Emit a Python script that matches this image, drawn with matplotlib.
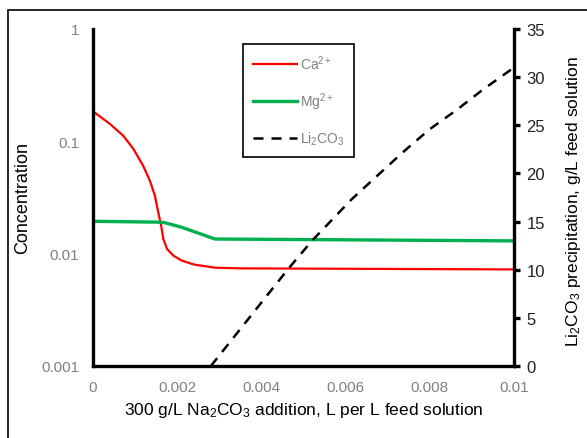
import matplotlib
matplotlib.use("Agg")
import matplotlib.pyplot as plt
from matplotlib.patches import Rectangle
from matplotlib.lines import Line2D

plt.rcParams['font.family'] = ['Liberation Sans', 'DejaVu Sans']
plt.rcParams['mathtext.fontset'] = 'custom'
plt.rcParams['mathtext.rm'] = 'Liberation Sans'
plt.rcParams['mathtext.it'] = 'Liberation Sans:italic'

# Ca2+ concentration vs Na2CO3 addition
ca_x = [0.0, 0.0004, 0.00072, 0.00096, 0.00119, 0.00135, 0.00147, 0.00155, 0.00162,
        0.00167, 0.00176, 0.00191, 0.0021, 0.0024, 0.0029, 0.0035, 0.01]
ca_y = [0.185, 0.143, 0.112, 0.0855, 0.0607, 0.0447, 0.0328, 0.0233, 0.0177,
        0.0135, 0.0110, 0.0096, 0.0087, 0.0080, 0.0075, 0.0074, 0.00724]

# Mg2+ concentration
mg_x = [0.0, 0.0015, 0.0017, 0.0021, 0.0029, 0.01]
mg_y = [0.0194, 0.0191, 0.0189, 0.0172, 0.0135, 0.0130]

# Li2CO3 precipitation, g/L feed
li_x = [0.0028, 0.00464, 0.0052, 0.00614, 0.00736, 0.008, 0.00864, 0.00926, 0.01]
li_y = [0.0, 10.1, 13.0, 17.3, 22.2, 24.6, 26.6, 28.7, 31.0]

grey = '#808080'

fig = plt.figure(figsize=(5.87, 4.39), dpi=100)
fig.patches.append(Rectangle((8 / 587, -0.5), 2, 0.5 + 1 - 10.5 / 439,
                             transform=fig.transFigure, fill=False,
                             edgecolor='black', linewidth=1.2))

ax = fig.add_axes([93 / 587, 1 - 367 / 439, (514 - 93) / 587, (367 - 30) / 439])
ax.plot(ca_x, ca_y, color='#ff0000', lw=1.6)
ax.plot(mg_x, mg_y, color='#00b050', lw=2.4)
ax.set_yscale('log')
ax.set_ylim(0.001, 1)
ax.set_xlim(0, 0.01)
ax.set_yticks([0.001, 0.01, 0.1, 1])
ax.set_yticklabels(['0.001', '0.01', '0.1', '1'])
ax.minorticks_off()
ax.set_xticks([0, 0.002, 0.004, 0.006, 0.008, 0.01])
ax.set_xticklabels(['0', '0.002', '0.004', '0.006', '0.008', '0.01'])
ax.tick_params(axis='both', length=0, labelsize=11, labelcolor=grey, pad=10)
for s in ['top', 'right']:
    ax.spines[s].set_visible(False)
for s in ['left', 'bottom']:
    ax.spines[s].set_linewidth(2.4)
ax.set_ylabel('Concentration', fontsize=13)
ax.yaxis.set_label_coords((31 - 93) / 421, 0.5)
ax.set_xlabel('300 g/L Na$_2$CO$_3$ addition, L per L feed solution', fontsize=12.5, labelpad=4.5)

ax2 = ax.twinx()
ax2.plot(li_x, li_y, color='black', lw=1.8, ls=(0, (4, 3.2)))
ax2.set_ylim(0, 35)
ax2.set_yticks(range(0, 36, 5))
for s in ['top', 'left', 'bottom']:
    ax2.spines[s].set_visible(False)
ax2.spines['right'].set_linewidth(2.4)
ax2.tick_params(axis='y', length=4, width=2.4, labelsize=12, labelcolor='#222222', pad=5)
ax2.set_ylabel('Li$_2$CO$_3$ precipitation, g/L feed solution', fontsize=12.5)
ax2.yaxis.set_label_coords((564 - 93) / 421, (367 - 201.5) / 337)

handles = [Line2D([], [], color='#ff0000', lw=1.6),
           Line2D([], [], color='#00b050', lw=2.4),
           Line2D([], [], color='black', lw=1.8, ls=(0, (4, 3.2)))]
leg = ax2.legend(handles, ['Ca$^{2+}$', 'Mg$^{2+}$', 'Li$_2$CO$_3$'],
                 loc='upper left', bbox_to_anchor=((243 - 93) / 421, 1 - 15 / 337),
                 fancybox=False, framealpha=1, edgecolor='black', fontsize=10,
                 handlelength=3.2, handletextpad=0.2, labelspacing=1.3,
                 borderpad=0.7, borderaxespad=0)
leg.get_frame().set_linewidth(1.2)
for t in leg.get_texts():
    t.set_color(grey)

fig.savefig('out.png', dpi=100)
